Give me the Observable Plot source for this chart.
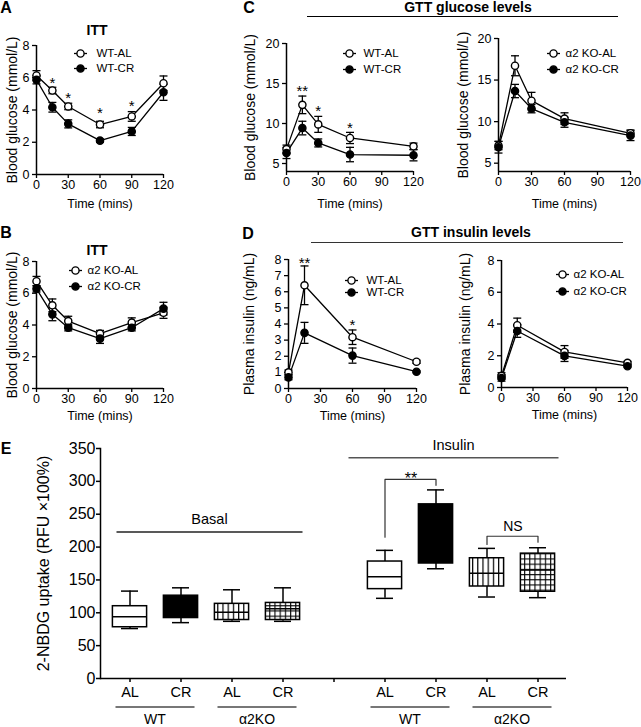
<!DOCTYPE html>
<html><head><meta charset="utf-8">
<script src="https://cdn.jsdelivr.net/npm/d3@7"></script>
<script src="https://cdn.jsdelivr.net/npm/@observablehq/plot@0.6"></script>
<style>
html,body{margin:0;padding:0;background:#fff;}
#fig{position:relative;width:641px;height:727px;overflow:hidden;font-family:"Liberation Sans",Arial,Helvetica,sans-serif;color:#000;}
#fig svg{position:absolute;overflow:visible;}
.t{position:absolute;transform:translate(-50%,-50%);white-space:nowrap;line-height:1;}
.letter{font-weight:bold;font-size:16px;}
.title{font-weight:bold;font-size:14px;}
.hline{position:absolute;height:0;border-top:1.5px solid #000;}
</style></head>
<body><div id="fig">
<svg width="0" height="0" style="left:0;top:0"><defs>
<pattern id="vstripes" patternUnits="userSpaceOnUse" width="5.2" height="10"><rect width="5.2" height="10" fill="#fff"/><line x1="0.6" y1="0" x2="0.6" y2="10" stroke="#000" stroke-width="1.2"/></pattern>
<pattern id="grid" patternUnits="userSpaceOnUse" width="5.2" height="5.2"><rect width="5.2" height="5.2" fill="#fff"/><line x1="0.6" y1="0" x2="0.6" y2="5.2" stroke="#000" stroke-width="1.1"/><line x1="0" y1="0.6" x2="5.2" y2="0.6" stroke="#000" stroke-width="1.1"/></pattern>
</defs></svg>
</div>
<script>
const FONT = '"Liberation Sans", Arial, Helvetica, sans-serif';

// ---------- ITT (panels A, B) ----------
const ittTimes = [0, 15, 30, 60, 90, 120];
const ittWT_AL = [6.14, 5.21, 4.22, 3.10, 3.60, 5.66];
const ittWT_AL_sem = [0.30, 0.20, 0.20, 0.20, 0.30, 0.45];
const ittWT_CR = [5.87, 4.17, 3.14, 2.10, 2.67, 5.10];
const ittWT_CR_sem = [0.25, 0.30, 0.25, 0.10, 0.25, 0.50];
const ittKO_AL = [6.76, 5.24, 4.25, 3.46, 4.15, 4.77];
const ittKO_AL_sem = [0.30, 0.40, 0.30, 0.20, 0.30, 0.35];
const ittKO_CR = [6.28, 4.67, 3.83, 3.14, 3.83, 5.03];
const ittKO_CR_sem = [0.20, 0.40, 0.20, 0.30, 0.20, 0.40];
const ittStarTimes = [15, 30, 60, 90];
const ittStarY = [5.9, 5.0, 4.07, 4.5];
const ittStarLabels = ["*", "*", "*", "*"];

// ---------- GTT glucose (panel C) ----------
const gttTimes = [0, 15, 30, 60, 120];
const gluWT_AL = [6.8, 12.33, 9.89, 8.19, 7.15];
const gluWT_AL_sem = [0.5, 1.1, 1.0, 0.7, 0.4];
const gluWT_CR = [6.32, 9.43, 7.57, 6.12, 6.03];
const gluWT_CR_sem = [0.7, 0.85, 0.5, 0.9, 0.7];
const gluKO_AL = [7.12, 16.72, 12.52, 10.36, 8.6];
const gluKO_AL_sem = [0.5, 1.2, 1.0, 0.7, 0.4];
const gluKO_CR = [6.92, 13.68, 11.56, 9.92, 8.32];
const gluKO_CR_sem = [0.7, 0.8, 0.5, 0.6, 0.6];
const gluStarTimes = [15, 30, 60];
const gluStarY = [14.6, 12.0, 9.9];
const gluStarLabels = ["**", "*", "*"];

// ---------- GTT insulin (panel D) ----------
const insTimes = [0, 15, 60, 120];
const insWT_AL = [1.0, 6.4, 3.18, 1.66];
const insWT_AL_sem = [0.15, 1.2, 0.45, 0.1];
const insWT_CR = [0.69, 3.45, 2.04, 1.04];
const insWT_CR_sem = [0.15, 0.65, 0.47, 0.05];
const insKO_AL = [0.73, 3.92, 2.24, 1.55];
const insKO_AL_sem = [0.2, 0.45, 0.4, 0.1];
const insKO_CR = [0.6, 3.56, 1.99, 1.34];
const insKO_CR_sem = [0.2, 0.4, 0.35, 0.05];
const insStarTimes = [15, 60];
const insStarY = [8.0, 4.2];
const insStarLabels = ["**", "*"];

const timeTicks = [0, 30, 60, 90, 120];

// ---------- 2-NBDG uptake (panel E) ----------
const eConditions = ["Basal", "Insulin"];
const eGenotypes = ["WT", "WT", "α2KO", "α2KO"];
const eDiets = ["AL", "CR", "AL", "CR"];
const basalMin = [76, 85, 87, 87];
const basalQ1 = [78, 92, 89, 89];
const basalMedian = [94, 110, 101, 106];
const basalQ3 = [110, 126, 113.6, 115];
const basalMax = [133, 138, 135, 138];
const insulinMin = [122, 167, 124, 123];
const insulinQ1 = [136, 175, 140, 132];
const insulinMedian = [155, 225, 160, 165];
const insulinQ3 = [178, 265, 183, 190];
const insulinMax = [195, 287, 198, 199];
const eTicks = [0, 50, 100, 150, 200, 250, 300, 350];
const sigFrom = ["Insulin WT AL", "Insulin α2KO AL"];
const sigTo = ["Insulin WT CR", "Insulin α2KO CR"];
const sigLegFrom = [215, 204];
const sigTop = [303, 216.5];
const sigLegTo = [294, 207.5];
const sigLabels = ["**", "NS"];
const condLineY = [222, 335];

const fig = document.getElementById("fig");
const capSym = {draw(ctx, size) { const r = Math.sqrt(size / Math.PI); ctx.moveTo(-r, 0); ctx.lineTo(r, 0); }};

function linePanel(p) {
  const ML = p.yLabOff + 10, MR = 12, MT = 14, MB = p.xLabOff + 10;
  const W = ML + (p.x1 - p.x0) + MR, H = MT + (p.yBot - p.yTop) + MB;
  const rows = p.series.flatMap(s => p.times.map((t, i) => ({
    name: s.name, t, m: s.mean[i], lo: s.mean[i] - s.sem[i], hi: s.mean[i] + s.sem[i], fill: s.filled ? "#000" : "#fff"
  })));
  const stars = p.starT.map((t, i) => ({t, y: p.starY[i], label: p.starL[i]}));
  const marks = [
    Plot.axisX({ticks: timeTicks, tickSize: 4, tickPadding: 2, fontSize: 12.5, label: null, strokeWidth: 1.3}),
    Plot.axisY({ticks: p.yTicks, tickSize: 4, tickPadding: 3, fontSize: 12.5, label: null, strokeWidth: 1.3}),
    Plot.ruleY([p.yDomain[0]], {x1: 0, x2: 120, stroke: "#000", strokeWidth: 1.5}),
    Plot.ruleX([0], {y1: p.yDomain[0], y2: p.yDomain[1], stroke: "#000", strokeWidth: 1.5}),
    Plot.line(rows, {x: "t", y: "m", z: "name", stroke: "#000", strokeWidth: 1.3}),
    Plot.ruleX(rows, {x: "t", y1: "lo", y2: "hi", stroke: "#000", strokeWidth: 1.3}),
    Plot.dot(rows, {x: "t", y: "hi", symbol: capSym, r: 4, stroke: "#000", strokeWidth: 1.3}),
    Plot.dot(rows, {x: "t", y: "lo", symbol: capSym, r: 4, stroke: "#000", strokeWidth: 1.3}),
    Plot.dot(rows, {x: "t", y: "m", r: 3.6, fill: "fill", stroke: "#000", strokeWidth: 1.4}),
    Plot.text(stars, {x: "t", y: "y", text: "label", fontSize: 15, dy: 4}),
    Plot.text([p.ylabel], {frameAnchor: "left", rotate: -90, dx: -p.yLabOff, fontSize: 14, textAnchor: "middle", lineAnchor: "middle"}),
    Plot.text(["Time (mins)"], {frameAnchor: "bottom", dy: p.xLabOff, fontSize: 12.5, textAnchor: "middle", lineAnchor: "middle"})
  ];
  p.series.forEach((s, i) => {
    marks.push(
      Plot.dot([s.name], {frameAnchor: "top-left", dx: p.legDx, dy: p.legDy[i], symbol: capSym, r: 6.5, stroke: "#000", strokeWidth: 1.3}),
      Plot.dot([s.name], {frameAnchor: "top-left", dx: p.legDx, dy: p.legDy[i], r: 3.6, fill: s.filled ? "#000" : "#fff", stroke: "#000", strokeWidth: 1.4}),
      Plot.text([s.name], {frameAnchor: "top-left", dx: p.legTx, dy: p.legDy[i], textAnchor: "start", lineAnchor: "middle", fontSize: 11.5})
    );
  });
  const el = Plot.plot({
    width: W, height: H, marginLeft: ML, marginRight: MR, marginTop: MT, marginBottom: MB,
    style: {fontFamily: FONT, color: "#000", background: "none", overflow: "visible"},
    x: {domain: [0, 120]},
    y: {domain: p.yDomain},
    color: {type: "identity"},
    marks
  });
  el.style.left = (p.x0 - ML) + "px";
  el.style.top = (p.yTop - MT) + "px";
  fig.appendChild(el);
}

// Panel A
linePanel({x0: 36, x1: 163, yTop: 45, yBot: 174, yDomain: [0, 8], yTicks: [0, 2, 4, 6, 8], yLabOff: 24, xLabOff: 29,
  times: ittTimes,
  series: [{name: "WT-AL", mean: ittWT_AL, sem: ittWT_AL_sem, filled: false}, {name: "WT-CR", mean: ittWT_CR, sem: ittWT_CR_sem, filled: true}],
  starT: ittStarTimes, starY: ittStarY, starL: ittStarLabels,
  legDx: 44, legDy: [8, 23], legTx: 60, ylabel: "Blood glucose (mmol/L)"});
// Panel B
linePanel({x0: 36, x1: 163, yTop: 261, yBot: 388, yDomain: [0, 8], yTicks: [0, 2, 4, 6, 8], yLabOff: 24, xLabOff: 27,
  times: ittTimes,
  series: [{name: "α2 KO-AL", mean: ittKO_AL, sem: ittKO_AL_sem, filled: false}, {name: "α2 KO-CR", mean: ittKO_CR, sem: ittKO_CR_sem, filled: true}],
  starT: [], starY: [], starL: [],
  legDx: 39, legDy: [9, 25], legTx: 51, ylabel: "Blood glucose (mmol/L)"});
// Panel C left
linePanel({x0: 286, x1: 413, yTop: 43, yBot: 171, yDomain: [4, 20], yTicks: [5, 10, 15, 20], yLabOff: 36, xLabOff: 32,
  times: gttTimes,
  series: [{name: "WT-AL", mean: gluWT_AL, sem: gluWT_AL_sem, filled: false}, {name: "WT-CR", mean: gluWT_CR, sem: gluWT_CR_sem, filled: true}],
  starT: gluStarTimes, starY: gluStarY, starL: gluStarLabels,
  legDx: 63, legDy: [10, 26], legTx: 77, ylabel: "Blood glucose (mmol/L)"});
// Panel C right
linePanel({x0: 498, x1: 630, yTop: 38, yBot: 171, yDomain: [4, 20], yTicks: [5, 10, 15, 20], yLabOff: 35, xLabOff: 32,
  times: gttTimes,
  series: [{name: "α2 KO-AL", mean: gluKO_AL, sem: gluKO_AL_sem, filled: false}, {name: "α2 KO-CR", mean: gluKO_CR, sem: gluKO_CR_sem, filled: true}],
  starT: [], starY: [], starL: [],
  legDx: 55, legDy: [15, 31], legTx: 67, ylabel: "Blood glucose (mmol/L)"});
// Panel D left
linePanel({x0: 288, x1: 416, yTop: 259, yBot: 388, yDomain: [0, 8], yTicks: [0, 1, 2, 3, 4, 5, 6, 7, 8], yLabOff: 39, xLabOff: 27,
  times: insTimes,
  series: [{name: "WT-AL", mean: insWT_AL, sem: insWT_AL_sem, filled: false}, {name: "WT-CR", mean: insWT_CR, sem: insWT_CR_sem, filled: true}],
  starT: insStarTimes, starY: insStarY, starL: insStarLabels,
  legDx: 63, legDy: [21, 33], legTx: 78, ylabel: "Plasma insulin (ng/mL)"});
// Panel D right
linePanel({x0: 501, x1: 627, yTop: 260, yBot: 387, yDomain: [0, 8], yTicks: [0, 2, 4, 6, 8], yLabOff: 36, xLabOff: 27,
  times: insTimes,
  series: [{name: "α2 KO-AL", mean: insKO_AL, sem: insKO_AL_sem, filled: false}, {name: "α2 KO-CR", mean: insKO_CR, sem: insKO_CR_sem, filled: true}],
  starT: [], starY: [], starL: [],
  legDx: 61, legDy: [14, 31], legTx: 72, ylabel: "Plasma insulin (ng/mL)"});

// ---------- Panel E ----------
const boxFills = ["#fff", "#000", "url(#vstripes)", "url(#grid)"];
const boxes = eConditions.flatMap((c, ci) => eDiets.map((d, i) => {
  const src = ci === 0 ? [basalMin, basalQ1, basalMedian, basalQ3, basalMax] : [insulinMin, insulinQ1, insulinMedian, insulinQ3, insulinMax];
  return {key: `${c} ${eGenotypes[i]} ${d}`, diet: d, fill: boxFills[i],
    min: src[0][i], q1: src[1][i], med: src[2][i], q3: src[3][i], max: src[4][i]};
}));
const eDomain = [...boxes.slice(0, 4).map(b => b.key), "gap", ...boxes.slice(4).map(b => b.key)];
const tickLabel = new Map(boxes.map(b => [b.key, b.diet]));
const EML = 70, EMR = 10, EMT = 30, EMB = 49, EFW = 466, EFH = 230;
const step = EFW / eDomain.length;
const brackets = sigLabels.map((lab, i) => ({id: i, from: sigFrom[i], to: sigTo[i], label: lab, top: sigTop[i]}));
const bracketPts = brackets.flatMap((b, i) => [
  {id: i, x: sigFrom[i], y: sigLegFrom[i]}, {id: i, x: sigFrom[i], y: sigTop[i]},
  {id: i, x: sigTo[i], y: sigTop[i]}, {id: i, x: sigTo[i], y: sigLegTo[i]}]);
const sigDy = [5, -5];
const sigSize = [16, 14];

const eMarks = [
  Plot.axisY({ticks: eTicks, tickSize: 4, tickPadding: 1, fontSize: 16, label: null, strokeWidth: 1.5}),
  Plot.axisX({tickSize: 4, tickPadding: 4, fontSize: 14.5, label: null, strokeWidth: 1.5, tickFormat: k => tickLabel.get(k) ?? ""}),
  Plot.frame({anchor: "left", strokeWidth: 1.5}),
  Plot.ruleY([0], {strokeWidth: 1.5}),
  Plot.ruleX(boxes, {x: "key", y1: "min", y2: "max", strokeWidth: 1.5}),
  Plot.tickY(boxes, {x: "key", y: "min", insetLeft: 17, insetRight: 17, strokeWidth: 1.5}),
  Plot.tickY(boxes, {x: "key", y: "max", insetLeft: 17, insetRight: 17, strokeWidth: 1.5}),
  Plot.barY(boxes, {x: "key", y1: "q1", y2: "q3", fill: "fill", stroke: "#000", strokeWidth: 1.5, insetLeft: 8.4, insetRight: 8.4}),
  Plot.tickY(boxes, {x: "key", y: "med", insetLeft: 8.4, insetRight: 8.4, strokeWidth: 1.5}),
  Plot.line(bracketPts, {x: "x", y: "y", z: "id", stroke: "#333", strokeWidth: 1.2}),
  Plot.text(["2-NBDG uptake (RFU ×100%)"], {frameAnchor: "left", rotate: -90, dx: -57, fontSize: 16, textAnchor: "middle", lineAnchor: "middle"})
];
brackets.forEach((b, i) => eMarks.push(
  Plot.text([b], {x: "from", y: "top", text: "label", dx: step / 2, dy: sigDy[i], lineAnchor: "bottom", fontSize: sigSize[i]})
));
const plotE = Plot.plot({
  width: EML + EFW + EMR, height: EMT + EFH + EMB,
  marginLeft: EML, marginRight: EMR, marginTop: EMT, marginBottom: EMB,
  style: {fontFamily: FONT, color: "#000", background: "none", overflow: "visible"},
  x: {type: "band", domain: eDomain, padding: 0},
  y: {domain: [0, 350]},
  color: {type: "identity"},
  marks: eMarks
});
plotE.style.left = (100 - EML) + "px";
plotE.style.top = (448 - EMT) + "px";
fig.appendChild(plotE);

// group annotations positioned through the plot's own scales
{
  const xs = plotE.scale("x"), ys = plotE.scale("y");
  const bw = xs.bandwidth;
  const cx = k => xs.apply(k) + bw / 2;
  const g = d3.select(plotE).append("g").attr("fill", "#000").attr("font-size", 14);
  const yb = ys.apply(0);
  const genoGroups = [];
  for (let ci = 0; ci < 2; ci++) for (let gi = 0; gi < 2; gi++) {
    const a = boxes[ci * 4 + gi * 2], b = boxes[ci * 4 + gi * 2 + 1];
    genoGroups.push({label: eGenotypes[gi * 2], a: a.key, b: b.key});
  }
  genoGroups.forEach(gr => {
    const xa = cx(gr.a) - 14, xb = cx(gr.b) + 14;
    g.append("line").attr("x1", xa).attr("x2", xb).attr("y1", yb + 29).attr("y2", yb + 29).attr("stroke", "#777").attr("stroke-width", 2);
    g.append("text").attr("x", (xa + xb) / 2).attr("y", yb + 46).attr("text-anchor", "middle").attr("font-size", 14).text(gr.label);
  });
  const condExt = [[-13, 20], [-36, 21]];
  const condStroke = ["#222", "#555"];
  eConditions.forEach((c, ci) => {
    const xa = cx(boxes[ci * 4].key) + condExt[ci][0], xb = cx(boxes[ci * 4 + 3].key) + condExt[ci][1];
    const y = ys.apply(condLineY[ci]);
    g.append("line").attr("x1", xa).attr("x2", xb).attr("y1", y).attr("y2", y).attr("stroke", condStroke[ci]).attr("stroke-width", 1.5);
    g.append("text").attr("x", (xa + xb) / 2).attr("y", y - 8).attr("text-anchor", "middle").attr("font-size", 14.5).text(c);
  });
}

// ---------- panel letters and titles ----------
function addText(txt, x, y, cls) {
  const d = document.createElement("div");
  d.className = "t " + cls; d.textContent = txt;
  d.style.left = x + "px"; d.style.top = y + "px";
  fig.appendChild(d);
}
function addLine(x1, x2, y, color) {
  const d = document.createElement("div");
  d.className = "hline"; d.style.left = x1 + "px"; d.style.top = y + "px"; d.style.width = (x2 - x1) + "px";
  d.style.borderTopColor = color;
  fig.appendChild(d);
}
addText("A", 6, 8, "letter");
addText("B", 6, 233, "letter");
addText("C", 249, 8, "letter");
addText("D", 248, 234, "letter");
addText("E", 6, 449, "letter");
addText("ITT", 97, 30, "title");
addText("ITT", 97, 250, "title");
addText("GTT glucose levels", 468, 7, "title");
addText("GTT insulin levels", 471, 232, "title");
addLine(307, 618, 16, "#000");
addLine(311, 623, 242, "#333");
</script></body></html>
